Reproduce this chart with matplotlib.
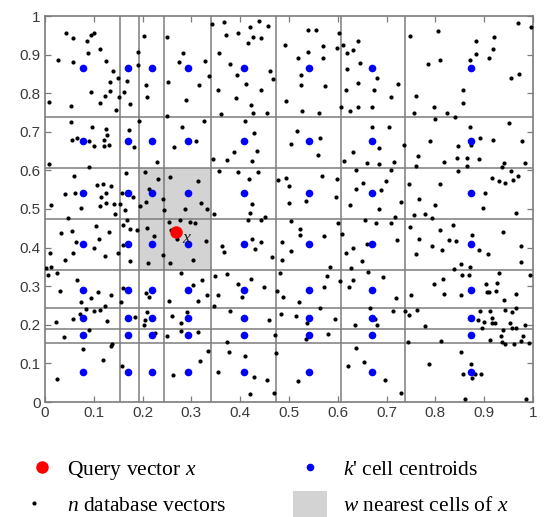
import matplotlib
matplotlib.use("Agg")
import matplotlib.pyplot as plt
from matplotlib.patches import Rectangle
from matplotlib.ticker import FuncFormatter

plt.rcParams['mathtext.fontset'] = 'custom'
plt.rcParams['mathtext.rm'] = 'Liberation Serif'
plt.rcParams['mathtext.it'] = 'Liberation Serif:italic'

# ---------------- data ----------------
# cell boundaries (same on both axes)
x_bounds = [0.153, 0.192, 0.243, 0.341, 0.474, 0.607, 0.738]
y_bounds = [0.153, 0.190, 0.2435, 0.341, 0.473, 0.607, 0.739]
# centroid coordinates
cent_x = [0.078, 0.170, 0.219, 0.293, 0.407, 0.542, 0.671, 0.873]
cent_y = [0.077, 0.173, 0.218, 0.291, 0.409, 0.542, 0.675, 0.866]
# query vector
query_x = 0.268
query_y = 0.440
# w nearest cells
near_x = (0.192, 0.341)
near_y = (0.341, 0.607)

# database vectors
db_x = [
 0.044,0.057,0.094,0.100,0.087,0.089,0.113,0.026,0.058,0.126,0.139,0.150,0.133,0.122,0.133,0.094,0.113,0.146,
 0.053,0.009,0.151,0.161,0.169,0.175,0.191,0.190,0.202,0.206,0.210,0.251,0.253,0.275,0.282,0.289,0.315,0.327,
 0.336,0.251,
 0.193,0.053,0.096,0.124,0.128,0.066,0.056,0.090,0.121,0.100,0.120,0.131,0.172,0.183,0.008,0.090,0.230,0.265,
 0.281,0.310,0.326,
 0.059,0.167,0.204,0.231,0.256,0.313,0.107,0.119,0.135,0.041,0.061,0.125,0.115,0.158,0.181,0.213,0.241,0.012,
 0.073,0.112,0.126,0.141,0.154,0.195,0.206,0.164,0.244,0.286,0.319,0.331,
 # lower-left
 0.143,0.047,0.032,0.056,0.064,0.105,0.110,0.132,0.100,0.058,0.042,0.010,0.122,0.149,0.003,0.013,0.006,0.025,
 0.160,0.174,0.169,0.189,0.160,0.174,0.209,0.223,0.212,0.242,0.255,0.276,0.297,0.307,0.258,0.270,0.329,0.303,
 0.257,0.065,0.031,0.094,0.108,0.136,0.074,0.083,0.100,0.113,0.123,0.072,0.058,0.023,0.127,0.160,0.155,0.184,
 0.207,0.214,0.209,0.205,0.203,0.255,0.279,0.303,0.322,0.314,0.260,0.278,0.290,0.090,0.038,0.225,0.251,0.278,
 0.313,0.078,0.137,0.135,0.118,0.157,0.025,0.262,0.318,0.335,
 # upper-middle
 0.342,0.366,0.371,0.395,0.420,0.439,0.457,0.426,0.443,0.416,0.356,0.380,0.393,0.412,0.462,0.467,0.443,
 0.355,0.391,0.422,0.426,0.454,0.360,0.492,0.538,0.555,0.603,0.569,0.598,0.538,0.519,0.570,0.525,0.525,0.574,
 0.494,0.526,0.561,0.610,0.619,0.632,0.641,0.646,0.619,0.641,0.617,0.606,0.626,0.642,
 0.409,0.429,0.387,0.434,0.345,0.373,0.424,0.517,0.563,0.504,0.560,0.632,0.612,0.659,
 0.356,0.395,0.419,0.436,0.424,0.478,0.493,0.501,0.567,0.598,0.597,0.500,0.535,0.637,0.652,0.637,0.624,
 # upper-right
 0.681,0.675,0.724,0.708,0.671,0.747,0.806,0.785,0.809,0.760,0.756,0.797,0.823,0.841,0.799,0.857,0.857,0.871,
 0.883,0.883,0.910,0.919,0.921,0.970,0.996,0.954,0.972,
 0.671,0.705,0.685,0.736,0.684,0.716,0.789,0.765,0.760,0.817,0.846,0.844,0.846,0.865,0.865,0.871,0.873,0.892,
 0.889,0.919,0.950,0.977,0.941,0.936,0.984,
 0.709,0.699,0.689,0.684,0.729,0.745,0.767,0.799,0.809,0.915,0.930,0.942,0.954,0.959,0.970,0.901,0.898,
 # lower-middle
 0.346,0.421,0.415,0.443,0.451,0.504,0.522,0.522,0.572,0.600,0.608,0.656,0.363,0.367,0.424,0.431,0.443,0.465,
 0.486,0.486,0.504,0.583,0.617,0.632,0.650,0.628,0.660,0.331,
 0.348,0.373,0.396,0.422,0.449,0.354,0.403,0.481,0.476,0.487,0.520,0.563,0.572,0.578,0.604,0.622,0.632,0.662,
 0.346,0.379,0.458,0.483,0.514,0.537,0.595,0.635,0.666,0.471,0.535,0.579,0.372,0.377,0.409,0.474,0.638,
 0.653,0.620,0.355,0.428,0.454,0.519,0.421,0.469,
 # lower-right
 0.717,0.756,0.778,0.794,0.966,0.679,0.708,0.721,0.747,0.767,0.760,0.794,0.810,0.814,0.827,0.837,0.843,0.876,
 0.890,0.908,0.939,0.975,0.975,0.853,0.871,0.839,
 0.693,0.719,0.749,0.798,0.815,0.818,0.853,0.854,0.868,0.903,0.905,0.910,0.925,0.927,0.931,0.941,0.965,0.993,
 0.713,0.738,0.745,0.763,0.676,0.680,0.778,0.891,0.887,0.900,0.895,0.912,0.915,0.917,0.922,0.943,0.956,0.965,
 0.952,0.956,0.965,0.983,
 0.939,0.935,0.911,0.937,0.942,0.961,0.975,0.980,0.991,0.744,0.811,
 0.852,0.787,0.873,0.856,0.882,0.893,0.876,0.696,0.729,0.861,0.986,
]
db_y = [
 0.956,0.942,0.951,0.956,0.935,0.903,0.915,0.886,0.881,0.884,0.857,0.839,0.828,0.794,0.805,0.803,0.775,0.756,
 0.767,0.777,0.791,0.803,0.832,0.771,0.908,0.872,0.947,0.822,0.790,0.946,0.830,0.881,0.904,0.782,0.822,0.884,
 0.845,0.740,
 0.728,0.726,0.712,0.707,0.693,0.685,0.678,0.676,0.679,0.662,0.662,0.667,0.704,0.661,0.616,0.609,0.622,0.661,
 0.713,0.677,0.728,
 0.585,0.594,0.595,0.579,0.582,0.573,0.561,0.564,0.560,0.540,0.541,0.541,0.532,0.541,0.532,0.553,0.526,0.511,
 0.503,0.508,0.516,0.512,0.512,0.509,0.519,0.497,0.497,0.500,0.516,0.500,
 # lower-left
 0.486,0.476,0.438,0.443,0.415,0.456,0.423,0.440,0.398,0.385,0.369,0.387,0.377,0.385,0.347,0.351,0.330,0.334,
 0.459,0.449,0.471,0.446,0.406,0.366,0.452,0.429,0.360,0.381,0.466,0.471,0.466,0.464,0.445,0.421,0.416,0.369,
 0.359,0.316,0.287,0.270,0.284,0.278,0.259,0.241,0.236,0.239,0.250,0.229,0.214,0.208,0.211,0.295,0.259,0.221,
 0.282,0.272,0.232,0.212,0.199,0.261,0.335,0.304,0.317,0.262,0.222,0.205,0.232,0.187,0.169,0.178,0.172,0.184,
 0.181,0.137,0.151,0.144,0.110,0.093,0.060,0.071,0.105,0.132,
 # upper-middle
 0.979,0.984,0.952,0.956,0.971,0.987,0.975,0.946,0.944,0.929,0.904,0.875,0.848,0.823,0.857,0.837,0.808,
 0.809,0.788,0.769,0.749,0.750,0.747,0.925,0.965,0.965,0.957,0.921,0.918,0.907,0.892,0.892,0.847,0.821,0.819,
 0.780,0.754,0.749,0.926,0.903,0.913,0.934,0.879,0.862,0.826,0.808,0.765,0.755,0.765,
 0.727,0.696,0.648,0.651,0.630,0.628,0.624,0.701,0.685,0.668,0.641,0.648,0.624,0.620,
 0.598,0.597,0.579,0.595,0.513,0.574,0.581,0.560,0.585,0.579,0.531,0.516,0.522,0.602,0.568,0.553,0.510,
 # upper-right
 0.839,0.807,0.823,0.791,0.763,0.948,0.960,0.876,0.887,0.794,0.749,0.763,0.750,0.738,0.734,0.807,0.775,0.885,
 0.901,0.936,0.890,0.914,0.946,0.982,0.972,0.839,0.849,
 0.712,0.713,0.659,0.667,0.617,0.623,0.677,0.637,0.611,0.623,0.662,0.633,0.598,0.633,0.611,0.712,0.666,0.683,
 0.630,0.680,0.724,0.675,0.618,0.610,0.618,
 0.601,0.573,0.549,0.500,0.517,0.566,0.525,0.510,0.566,0.581,0.573,0.568,0.599,0.576,0.585,0.541,0.502,
 # lower-middle
 0.486,0.489,0.471,0.471,0.479,0.468,0.448,0.433,0.430,0.465,0.434,0.472,0.403,0.389,0.421,0.396,0.415,0.375,
 0.414,0.369,0.392,0.349,0.387,0.400,0.366,0.347,0.410,0.277,
 0.327,0.331,0.305,0.319,0.299,0.278,0.273,0.335,0.288,0.273,0.259,0.244,0.297,0.326,0.314,0.297,0.317,0.338,
 0.248,0.237,0.213,0.228,0.222,0.205,0.216,0.199,0.243,0.174,0.162,0.176,0.155,0.129,0.120,0.127,0.139,
 0.104,0.092,0.079,0.066,0.058,0.054,0.020,0.023,
 # lower-right
 0.480,0.484,0.486,0.477,0.490,0.464,0.464,0.419,0.453,0.422,0.383,0.404,0.446,0.393,0.420,0.459,0.416,0.433,
 0.395,0.383,0.441,0.404,0.363,0.358,0.350,0.344,
 0.325,0.269,0.278,0.306,0.319,0.279,0.278,0.328,0.330,0.306,0.284,0.284,0.288,0.308,0.335,0.263,0.281,0.329,
 0.237,0.236,0.225,0.238,0.216,0.199,0.196,0.237,0.213,0.206,0.193,0.236,0.218,0.204,0.204,0.239,0.232,0.243,
 0.205,0.193,0.193,0.199,
 0.186,0.172,0.161,0.155,0.149,0.149,0.158,0.172,0.154,0.156,0.157,
 0.130,0.099,0.099,0.073,0.073,0.073,0.061,0.057,0.024,0.009,0.009,
]

tick_vals = [0, 0.1, 0.2, 0.3, 0.4, 0.5, 0.6, 0.7, 0.8, 0.9, 1]

legend_labels = ["Query vector $x$", "$k$' cell centroids",
                 "$n$ database vectors", "$w$ nearest cells of $x$"]

# ---------------- figure ----------------
W, H = 550, 517
fig = plt.figure(figsize=(W / 100, H / 100), dpi=100)
ax = fig.add_axes([45 / W, 1 - 402 / H, 488 / W, 386 / H])

grid_col = '#7c7c7c'
ax.add_patch(Rectangle((near_x[0], near_y[0]), near_x[1] - near_x[0], near_y[1] - near_y[0],
                       facecolor='#d3d3d3', edgecolor='none', zorder=0))
for xb in x_bounds:
    ax.axvline(xb, color=grid_col, lw=1.1, zorder=1)
for yb in y_bounds:
    ax.axhline(yb, color=grid_col, lw=1.1, zorder=1)

ax.plot(db_x, db_y, 'o', color='black', markersize=3.0, markeredgewidth=0, zorder=3)
cx = [c for c in cent_x for _ in cent_y]
cy = [c for _ in cent_x for c in cent_y]
ax.plot(cx, cy, 'o', color='#0000ff', markersize=5.5, markeredgewidth=0, zorder=4)
ax.plot([query_x], [query_y], 'o', color='#ff0000', markersize=9, markeredgewidth=0, zorder=5)
ax.text(query_x + 0.012, query_y - 0.014, '$x$', fontsize=13, color='#222222',
        ha='left', va='center', zorder=6)

ax.set_xlim(0, 1)
ax.set_ylim(0, 1)
ax.set_xticks(tick_vals)
ax.set_yticks(tick_vals)
fmt = FuncFormatter(lambda v, p: ('%g' % v))
ax.xaxis.set_major_formatter(fmt)
ax.yaxis.set_major_formatter(fmt)
ax.tick_params(direction='in', length=4, width=0.9, color=grid_col,
               top=True, right=True, labelsize=11, labelcolor='#3a3a3a', pad=3)
for lbl in ax.get_xticklabels() + ax.get_yticklabels():
    lbl.set_fontfamily('Liberation Sans')
for s in ax.spines.values():
    s.set_color(grid_col)
    s.set_linewidth(1.2)

# ---------------- legend (manual, figure pixels) ----------------
lg = fig.add_axes([0, 0, 1, 1 - 430 / H])
lg.set_xlim(0, W)
lg.set_ylim(H, 430)
lg.axis('off')
lg.patch.set_alpha(0)
lg.plot([41.7], [467], 'o', color='#ff0000', markersize=9, markeredgewidth=0, clip_on=False)
lg.plot([34.3], [503], 'o', color='black', markersize=3.0, markeredgewidth=0, clip_on=False)
lg.plot([310], [467], 'o', color='#0000ff', markersize=5.5, markeredgewidth=0, clip_on=False)
lg.add_patch(Rectangle((293, 491), 34, 30, facecolor='#d3d3d3', edgecolor='none', clip_on=False))
serif = 'Liberation Serif'
lg.text(67, 475, legend_labels[0], fontsize=15.5, family=serif, va='baseline', ha='left')
lg.text(343, 475, legend_labels[1], fontsize=15.5, family=serif, va='baseline', ha='left')
lg.text(67, 511, legend_labels[2], fontsize=15.5, family=serif, va='baseline', ha='left')
lg.text(343, 511, legend_labels[3], fontsize=15.5, family=serif, va='baseline', ha='left')

fig.savefig('out.png', dpi=100)
